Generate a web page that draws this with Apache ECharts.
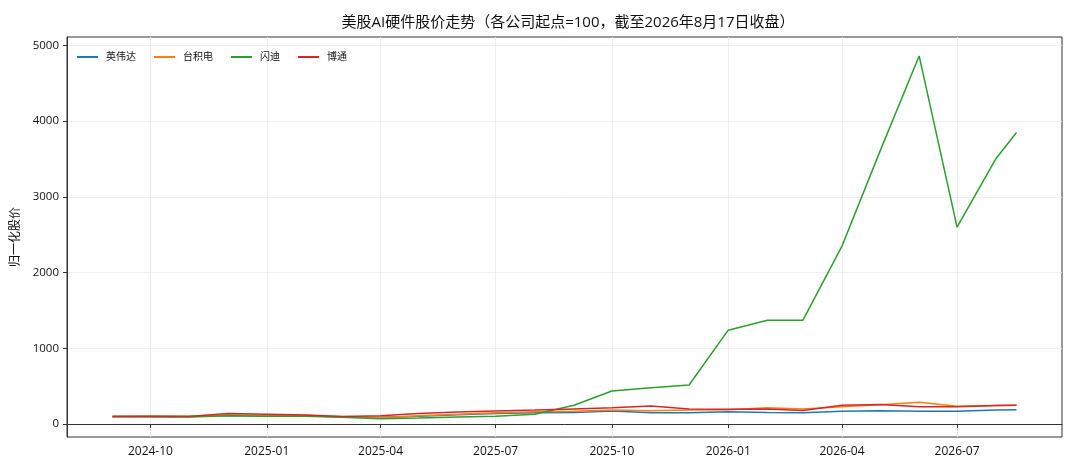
<!DOCTYPE html>
<html lang="zh">
<head>
    <meta charset="utf-8">
    <title>美股AI硬件股价走势</title>
    <script src="https://cdn.jsdelivr.net/npm/echarts@6/dist/echarts.min.js"></script>
    <style>
        html, body { margin: 0; padding: 0; background: #fff; }
        #chart { width: 1080px; height: 472px; }
    </style>
</head>
<body>
<div id="chart"></div>
<script>
    // 日期（月度，最后一个点为 8月17日收盘）
    var dates = ['2024-09-01', '2024-10-01', '2024-11-01', '2024-12-01', '2025-01-01', '2025-02-01',
        '2025-03-01', '2025-04-01', '2025-05-01', '2025-06-01', '2025-07-01', '2025-08-01',
        '2025-09-01', '2025-10-01', '2025-11-01', '2025-12-01', '2026-01-01', '2026-02-01',
        '2026-03-01', '2026-04-01', '2026-05-01', '2026-06-01', '2026-07-01', '2026-08-01', '2026-08-17'];

    // 各公司归一化股价（起点=100）
    var nvda = [100, 102, 100, 115, 105, 110, 95, 90, 105, 125, 140, 150, 155, 172, 150, 150, 163, 155, 150, 170, 175, 170, 170, 185, 190];
    var tsm = [100, 105, 108, 120, 118, 115, 100, 85, 110, 130, 150, 163, 170, 185, 175, 185, 190, 215, 200, 230, 255, 290, 235, 245, 250];
    var mu = [100, 98, 95, 110, 105, 105, 90, 70, 80, 95, 105, 130, 250, 437, 480, 516, 1240, 1370, 1370, 2350, 3600, 4860, 2600, 3510, 3850];
    var avgo = [100, 104, 102, 140, 130, 120, 100, 110, 140, 160, 172, 185, 200, 215, 238, 198, 195, 200, 180, 250, 260, 230, 230, 245, 250];

    var seriesNames = ['英伟达', '台积电', '闪迪', '博通'];
    var xTicks = ['2024-10-01', '2025-01-01', '2025-04-01', '2025-07-01', '2025-10-01', '2026-01-01', '2026-04-01', '2026-07-01'];
    var yTicks = [0, 1000, 2000, 3000, 4000, 5000];

    var colors = ['#1f77b4', '#ff7f0e', '#2ca02c', '#d62728'];
    var font = '"Open Sans", "Noto Sans CJK SC", sans-serif';

    function pairs(vals) {
        return dates.map(function (d, i) {
            return [d, vals[i]];
        });
    }

    var tickTimes = xTicks.map(function (d) {
        return +new Date(d + 'T00:00:00');
    });

    var myChart = echarts.init(document.getElementById('chart'));
    myChart.setOption({
        animation: false,
        color: colors,
        textStyle: {fontFamily: font},
        title: {
            text: '美股AI硬件股价走势（各公司起点=100，截至2026年8月17日收盘）',
            left: 563,
            textAlign: 'center',
            top: 10,
            textStyle: {fontSize: 15, fontWeight: 'normal', color: '#111', fontFamily: font}
        },
        legend: {
            left: 72,
            top: 47,
            itemWidth: 21,
            itemHeight: 10,
            itemGap: 18,
            icon: 'path://M0,4 L21,4 L21,6 L0,6 Z',
            textStyle: {fontSize: 10, color: '#111', fontFamily: font, padding: [0, 0, 0, 3]},
            data: seriesNames
        },
        grid: {
            left: 67,
            right: 18,
            top: 37,
            bottom: 35,
            show: true,
            borderColor: '#333',
            borderWidth: 1,
            containLabel: false
        },
        xAxis: {
            type: 'time',
            min: '2024-07-27',
            max: '2026-09-22',
            axisLine: {lineStyle: {color: '#333'}},
            axisTick: {show: true, inside: false, length: 4, lineStyle: {color: '#333'}, customValues: tickTimes},
            axisLabel: {
                customValues: tickTimes,
                margin: 9,
                fontSize: 12,
                color: '#111',
                fontFamily: font,
                formatter: '{yyyy}-{MM}'
            },
            splitLine: {show: true, lineStyle: {color: '#ebebeb', width: 0.8}}
        },
        yAxis: {
            type: 'value',
            min: -170,
            max: 5110,
            name: '归一化股价',
            nameLocation: 'middle',
            nameGap: 41,
            nameTextStyle: {fontSize: 12, color: '#111', fontFamily: font},
            axisLine: {show: true, lineStyle: {color: '#333'}},
            axisTick: {show: true, inside: false, length: 4, lineStyle: {color: '#333'}, customValues: yTicks},
            axisLabel: {
                customValues: yTicks,
                margin: 8,
                fontSize: 11.5,
                color: '#111',
                fontFamily: font,
                formatter: function (v) {
                    return String(v);
                }
            },
            splitLine: {show: true, lineStyle: {color: '#ebebeb', width: 0.8}}
        },
        series: [nvda, tsm, mu, avgo].map(function (vals, i) {
            return {
                name: seriesNames[i],
                type: 'line',
                data: pairs(vals),
                symbol: 'none',
                lineStyle: {width: 1.5, color: colors[i]},
                z: 2 + i
            };
        })
    });
</script>
</body>
</html>
